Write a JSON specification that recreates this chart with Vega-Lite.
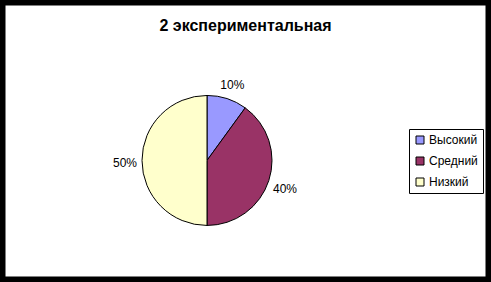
{
  "$schema": "https://vega.github.io/schema/vega-lite/v6.json",
  "width": 491,
  "height": 282,
  "autosize": {"type": "fit", "contains": "padding"},
  "padding": 0,
  "background": "white",
  "title": {
    "text": "2 экспериментальная",
    "font": "Liberation Sans",
    "fontSize": 16,
    "fontWeight": "bold",
    "color": "black",
    "anchor": "middle",
    "offset": -34
  },
  "config": {
    "view": {"stroke": "black", "strokeWidth": 11}
  },
  "data": {
    "values": [
      {"category": "Высокий", "share": 10, "label": "10%", "order": 1},
      {"category": "Средний", "share": 40, "label": "40%", "order": 2},
      {"category": "Низкий", "share": 50, "label": "50%", "order": 3}
    ]
  },
  "encoding": {
    "theta": {"field": "share", "type": "quantitative", "stack": true},
    "order": {"field": "order", "type": "quantitative"},
    "x": {"datum": 0.4216, "type": "quantitative", "scale": {"domain": [0, 1]}, "axis": null},
    "y": {"datum": 0.569, "type": "quantitative", "scale": {"domain": [0, 1], "reverse": true}, "axis": null}
  },
  "layer": [
    {
      "mark": {"type": "arc", "outerRadius": 65, "stroke": "black", "strokeWidth": 1},
      "encoding": {
        "color": {
          "field": "category",
          "type": "nominal",
          "sort": ["Высокий", "Средний", "Низкий"],
          "scale": {"domain": ["Высокий", "Средний", "Низкий"], "range": ["#9999FF", "#993366", "#FFFFCC"]},
          "legend": {
            "title": null,
            "orient": "none",
            "legendX": 409,
            "legendY": 129,
            "fillColor": "white",
            "strokeColor": "black",
            "padding": 5,
            "symbolType": "square",
            "symbolSize": 64,
            "symbolStrokeColor": "black",
            "symbolStrokeWidth": 1,
            "labelFont": "Liberation Sans",
            "labelFontSize": 12,
            "labelColor": "black",
            "labelOffset": 3,
            "rowPadding": 9
          }
        }
      }
    },
    {
      "mark": {"type": "text", "radius": 82, "dy": 3, "font": "Liberation Sans", "fontSize": 12, "color": "black", "align": "center", "baseline": "middle"},
      "encoding": {"text": {"field": "label"}}
    }
  ]
}
